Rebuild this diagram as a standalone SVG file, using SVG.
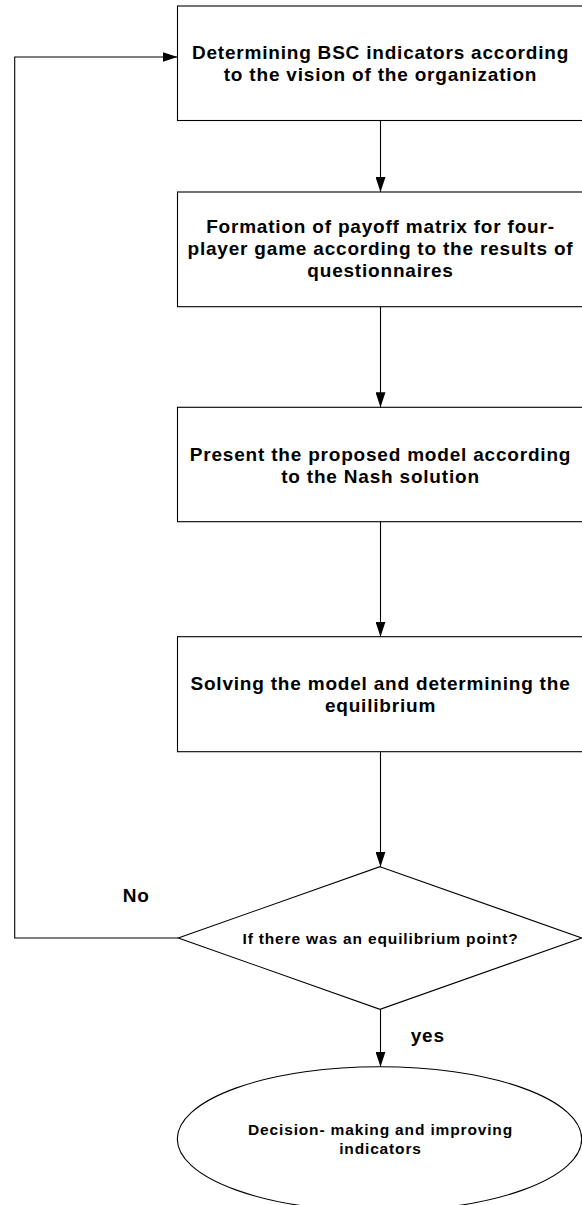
<svg xmlns="http://www.w3.org/2000/svg" width="582" height="1205" viewBox="0 0 582 1205">
  <style>
    .shape { fill: #ffffff; stroke: #000000; stroke-width: 1.1; }
    .conn { fill: none; stroke: #000000; stroke-width: 1.1; }
    .t { font-family: "Liberation Sans", Arial, sans-serif; font-weight: bold; fill: #000000; text-anchor: middle; }
    .big { font-size: 19px; letter-spacing: 0.8px; }
    .small { font-size: 15.5px; letter-spacing: 0.85px; }
    .lbl { font-family: "Liberation Sans", Arial, sans-serif; font-weight: bold; font-size: 19px; letter-spacing: 0.8px; fill: #000000; }
  </style>
  <defs>
    <marker id="arrow" markerUnits="userSpaceOnUse" markerWidth="15" markerHeight="10" refX="15" refY="5" orient="auto">
      <path d="M0,0 L15,5 L0,10 z" fill="#000000"/>
    </marker>
  </defs>
  <rect x="0" y="0" width="582" height="1205" fill="#ffffff"/>

  <g id="connectors">
    <line class="conn" x1="380.5" y1="120.5" x2="380.5" y2="192" marker-end="url(#arrow)"/>
    <line class="conn" x1="380.5" y1="306.7" x2="380.5" y2="407.3" marker-end="url(#arrow)"/>
    <line class="conn" x1="380.5" y1="521.7" x2="380.5" y2="636.7" marker-end="url(#arrow)"/>
    <line class="conn" x1="380.5" y1="751.7" x2="380.5" y2="866.7" marker-end="url(#arrow)"/>
    <line class="conn" x1="380.5" y1="1009.3" x2="380.5" y2="1066.7" marker-end="url(#arrow)"/>
    <polyline class="conn" points="178.3,938 14.7,938 14.7,57 177.5,57" marker-end="url(#arrow)"/>
  </g>

  <g id="node1">
    <rect class="shape" x="177.5" y="6" width="406" height="114.5"/>
    <text class="t big" x="380.5" y="58.5">Determining BSC indicators according</text>
    <text class="t big" x="380.5" y="80.5">to the vision of the organization</text>
  </g>

  <g id="node2">
    <rect class="shape" x="177.5" y="192" width="406" height="114.7"/>
    <text class="t big" x="380.5" y="233">Formation of payoff matrix for four-</text>
    <text class="t big" x="380.5" y="255">player game according to the results of</text>
    <text class="t big" x="380.5" y="277">questionnaires</text>
  </g>

  <g id="node3">
    <rect class="shape" x="177.5" y="407.3" width="406" height="114.4"/>
    <text class="t big" x="380.5" y="461">Present the proposed model according</text>
    <text class="t big" x="380.5" y="483">to the Nash solution</text>
  </g>

  <g id="node4">
    <rect class="shape" x="177.5" y="636.7" width="406" height="115"/>
    <text class="t big" x="380.5" y="690">Solving the model and determining the</text>
    <text class="t big" x="380.5" y="712">equilibrium</text>
  </g>

  <g id="decision">
    <polygon class="shape" points="380,866.7 581.7,938 380,1009.3 178.3,938"/>
    <text class="t small" x="380.5" y="943.5">If there was an equilibrium point?</text>
  </g>

  <g id="end">
    <ellipse class="shape" cx="379.5" cy="1139" rx="202.2" ry="72.3"/>
    <text class="t small" x="380.5" y="1135">Decision- making and improving</text>
    <text class="t small" x="380.5" y="1154">indicators</text>
  </g>

  <g id="labels">
    <text class="lbl" x="122.7" y="901.7">No</text>
    <text class="lbl" x="410.7" y="1041.7">yes</text>
  </g>
</svg>
